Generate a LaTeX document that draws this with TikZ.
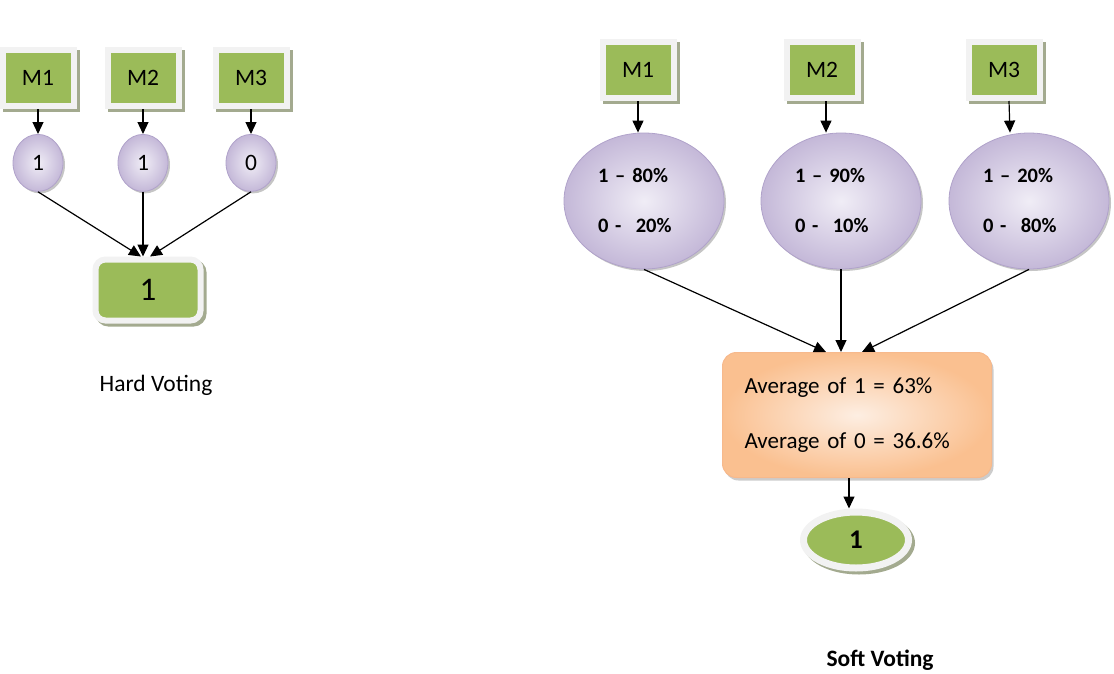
\documentclass[tikz,border=0pt]{standalone}
\usepackage{fontspec}
\setmainfont{Carlito}
\usepackage{tikz}
\usetikzlibrary{arrows.meta,shapes.geometric,shadows,positioning}
\definecolor{mgreen}{RGB}{155,187,89}
\definecolor{frame}{RGB}{242,242,242}
\definecolor{shadowgray}{RGB}{163,170,143}
\definecolor{lavlight}{RGB}{240,237,246}
\definecolor{lavdark}{RGB}{196,184,216}
\definecolor{lavline}{RGB}{176,162,202}
\definecolor{orlight}{RGB}{253,238,226}
\definecolor{ordark}{RGB}{250,192,144}
\definecolor{orline}{RGB}{247,185,140}

\begin{document}
\begin{tikzpicture}
          [x=1pt, y=-1pt,
           every node/.style={font=\fontsize{23.5}{27}\selectfont},
           model/.style={draw=frame, line width=6pt, fill=mgreen,
             minimum width=71pt, minimum height=56pt,
             drop shadow={shadow xshift=3pt, shadow yshift=-3pt,
               fill=shadowgray, draw=shadowgray, line width=6pt, opacity=1}},
          vote/.style={ellipse, draw=lavline, line width=0.8pt,
             inner color=lavlight, outer color=lavdark, inner sep=0pt,
             drop shadow={shadow xshift=2pt, shadow yshift=-2pt,
               fill=black!45, opacity=0.5}},
          result/.style={draw=frame, fill=mgreen,
             drop shadow={shadow xshift=3pt, shadow yshift=-3pt,
               fill=shadowgray, draw=shadowgray, opacity=1}},
          arr/.style={-{Triangle[width=11pt,length=12pt]}, line width=1.2pt}]
          \useasboundingbox (0,0) rectangle (1114,673);

          % hard voting
          \node[model] (m1) at (38,78) {M1};
          \node[model] (m2) at (143,78) {M2};
          \node[model] (m3) at (251,78) {M3};
          \node[vote, minimum width=50pt, minimum height=57pt]
            (c1) [below = 25pt of m1] {1};
          \node[vote, minimum width=50pt, minimum height=57pt]
            (c2) [below = 25pt of m2] {1};
          \node[vote, minimum width=50pt, minimum height=57pt]
            (c3) [below = 25pt of m3] {0};
          \node[result, rounded corners=10pt, line width=6pt,
            minimum width=105pt, minimum height=61pt,
            font=\fontsize{33}{36}\selectfont] (hard) at (148,290) {1};
          \node (hardlabel) at (156,385) {Hard Voting};

          \draw[arr] (m1) -- (c1);
          \draw[arr] (m2) -- (c2);
          \draw[arr] (m3) -- (c3);
          \draw[arr] (c1.south) -- ([xshift=-7pt]hard.north);
          \draw[arr] (c2.south) -- (c2.south |- hard.north);
          \draw[arr] (c3.south) -- ([xshift=2pt]hard.north);

          % soft voting
          \node[model] (sm1) at (638,70) {M1};
          \node[model] (sm2) at (822,70) {M2};
          \node[model] (sm3) at (1004,70) {M3};
          \node[vote, minimum width=160pt, minimum height=136pt,
            text width=92pt, align=left,
            font=\bfseries\fontsize{20.5}{50}\selectfont]
            (e1) at (644,201) {1 – 80\%\\0 -\hspace{0.7em}20\%};
          \node[vote, minimum width=160pt, minimum height=136pt,
            text width=92pt, align=left,
            font=\bfseries\fontsize{20.5}{50}\selectfont]
            (e2) at (841,201) {1 – 90\%\\0 -\hspace{0.7em}10\%};
          \node[vote, minimum width=160pt, minimum height=136pt,
            text width=92pt, align=left,
            font=\bfseries\fontsize{20.5}{50}\selectfont]
            (e3) at (1029,201) {1 – 20\%\\0 -\hspace{0.7em}80\%};
          \node[rectangle, rounded corners=14pt, draw=orline, line width=1pt,
            inner color=orlight, outer color=ordark,
            minimum width=269pt, minimum height=125pt,
            text width=225pt, align=left,
            font=\fontsize{23}{55}\selectfont,
            drop shadow={shadow xshift=2pt, shadow yshift=-3pt,
              fill=black!40, opacity=0.5}]
            (avg) at (857,415) {Average of 1 = 63\%\\Average of 0 = 36.6\%\\[-6pt]};
          \node[result, ellipse, line width=7pt,
            minimum width=105pt, minimum height=56pt,
            font=\bfseries\fontsize{27}{30}\selectfont] (soft) at (856,540) {1};
          \node[font=\bfseries\fontsize{23.5}{27}\selectfont]
            (softlabel) at (880,660) {Soft Voting};

          \draw[arr] (sm1.south) -- (sm1.south |- e1.north);
          \draw[arr] ([xshift=4pt]sm2.south) -- ([xshift=4pt]sm2.south |- e2.north);
          \draw[arr] ([xshift=5pt]sm3.south) -- ([xshift=6pt]sm3.south |- e3.north);
          \draw[arr] (e1.south) -- ([xshift=-31pt]avg.north);
          \draw[arr] (e2.south) -- (e2.south |- avg.north);
          \draw[arr] (e3.south) -- ([xshift=5pt]avg.north);
          \draw[arr] ([xshift=-8pt]avg.south) -- ([xshift=-8pt]avg.south |- soft.north);
        \end{tikzpicture}
\end{document}
